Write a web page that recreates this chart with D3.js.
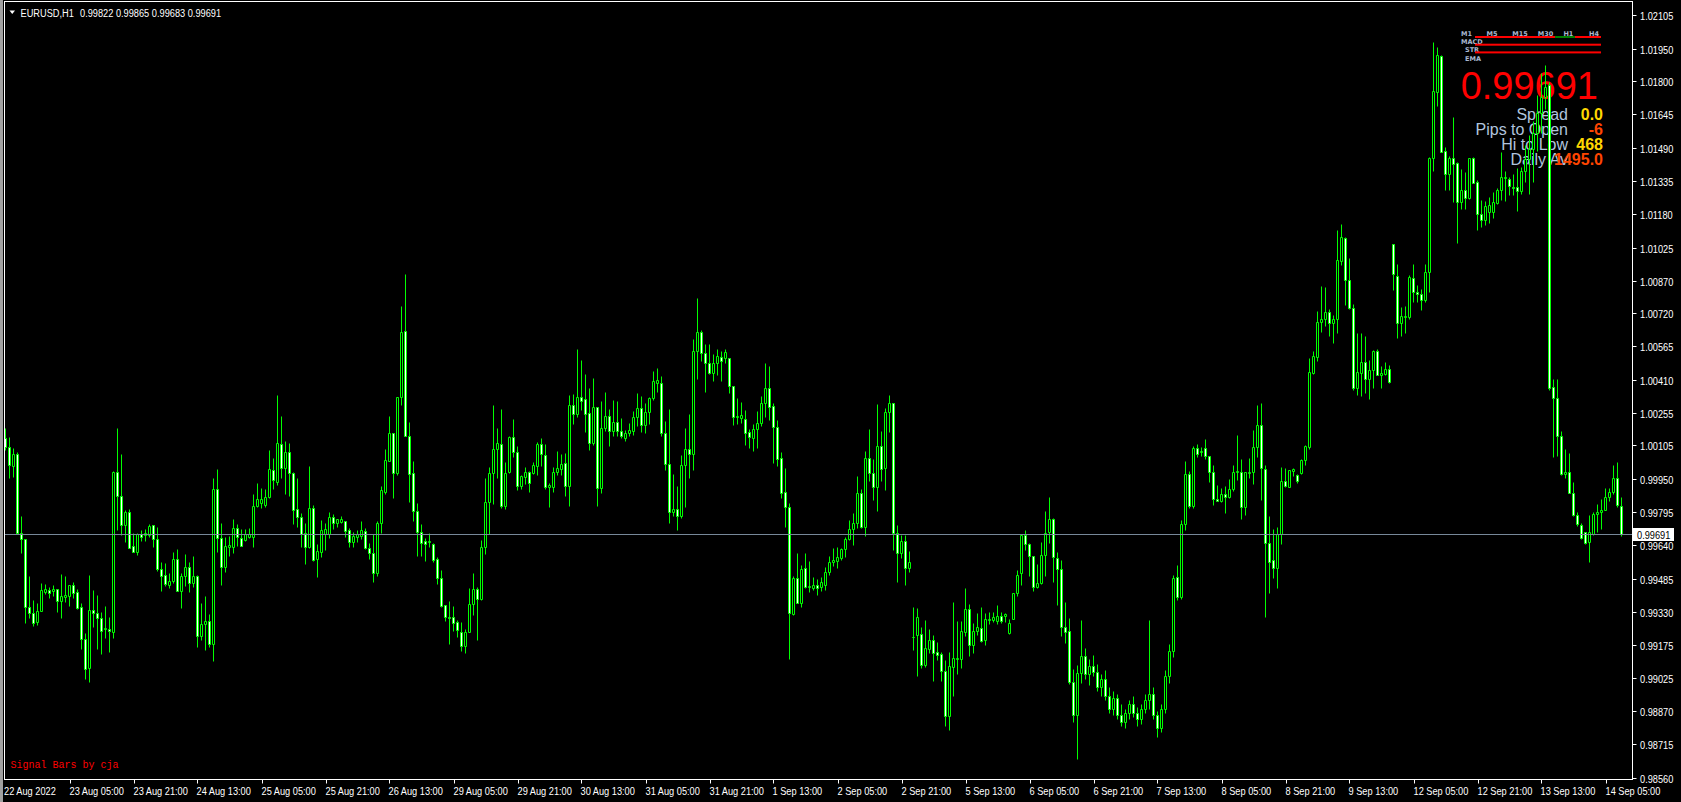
<!DOCTYPE html>
<html>
<head>
<meta charset="utf-8">
<script src="https://cdn.jsdelivr.net/npm/d3@7"></script>
<style>
html, body { margin: 0; padding: 0; background: #000; overflow: hidden; }
svg { display: block; }
</style>
</head>
<body>
<script>
// EURUSD H1 bars, 22 Aug 2022 13:00 -> 14 Sep 2022 09:00, prices in points (1e-5)
const opens = [
  100140,100098,100010,100063,99699,99671,99351,99323,99282,99336,
  99424,99432,99429,99435,99382,99401,99404,99455,99421,99351,
  99203,99068,99339,99323,99300,99249,99251,99238,99979,99871,
  99734,99793,99637,99610,99691,99686,99686,99733,99668,99528,
  99502,99457,99475,99575,99429,99497,99537,99463,99497,99220,
  99272,99288,99181,99900,99672,99537,99634,99634,99719,99675,
  99665,99680,99680,99824,99835,99827,99866,99990,99936,100110,
  99998,100076,99975,99807,99770,99696,99631,99812,99575,99607,
  99691,99691,99770,99742,99750,99751,99711,99657,99680,99683,
  99707,99626,99603,99513,99745,99890,100034,100161,99975,100328,
  100637,100147,99975,99800,99700,99660,99654,99645,99576,99487,
  99363,99307,99305,99282,99238,99172,99238,99367,99436,99389,
  99631,99843,99975,100086,100110,99824,99979,100145,100072,99917,
  99959,99983,99975,100010,100110,100060,99910,99910,99983,99995,
  100021,99918,100291,100249,100328,100319,100254,100115,100282,99905,
  100184,100242,100173,100212,100173,100138,100164,100173,100235,100277,
  100200,100259,100325,100394,100394,100161,100017,99797,99808,99778,
  100012,100087,100063,100545,100631,100533,100487,100443,100490,100518,
  100510,100510,100383,100235,100231,100226,100166,100141,100180,100207,
  100300,100370,100288,100189,100045,99887,99820,99319,99490,99371,
  99533,99445,99443,99454,99448,99453,99518,99564,99567,99583,
  99622,99668,99715,99743,99885,99727,100048,99978,99913,100104,
  100001,100259,100301,99696,99606,99659,99533,99212,99223,99226,
  99081,99157,99200,99146,99134,99056,98848,99076,99112,99112,
  99239,99344,99174,99242,99254,99200,99293,99293,99290,99312,
  99309,99231,99298,99417,99510,99688,99645,99591,99445,99464,
  99595,99702,99761,99580,99529,99262,99243,99006,98851,99045,
  99125,99040,99080,99050,98980,99020,98940,98880,98930,98850,
  98820,98860,98900,98860,98830,98880,98920,98950,98850,98790,
  98880,99030,99150,99491,99398,99738,99970,99825,100091,100076,
  100091,100057,99983,99854,99848,99877,99863,99901,99980,99983,
  99820,99978,99983,100099,100198,99994,99649,99572,99536,99691,
  99941,99913,99986,99967,99975,100037,100099,100443,100518,100677,
  100693,100724,100673,100691,100964,101068,100874,100742,100370,100442,
  100494,100415,100454,100542,100434,100438,100459,101043,100891,100675,
  100703,100703,100883,100816,100811,100779,100910,101439,101748,101916,
  101472,101368,101439,101416,101235,101291,101256,101440,101331,101182,
  101155,101190,101192,101230,101291,101347,101344,101307,101307,101286,
  101379,101435,101483,101556,101652,101724,101780,100378,100326,100149,
  99970,99983,99885,99781,99733,99701,99654,99693,99786,99794,
  99805,99863,99890,99954,99822
];
const highs = [
  100184,100142,100091,100075,99776,99671,99497,99386,99370,99463,
  99460,99448,99455,99435,99506,99497,99455,99468,99437,99370,
  99230,99502,99432,99409,99331,99358,99308,99985,100184,100064,
  99804,99809,99696,99696,99711,99714,99739,99733,99723,99562,
  99556,99510,99609,99623,99510,99599,99564,99590,99502,99373,
  99404,99320,99951,99995,99742,99680,99683,99761,99739,99716,
  99714,99722,99877,99928,99908,99900,100083,100044,100339,100240,
  100125,100117,99983,99952,99789,99742,100009,99828,99646,99758,
  99742,99795,99786,99761,99777,99755,99722,99704,99711,99753,
  99722,99649,99691,99753,99916,100086,100240,100161,100331,100753,
  100902,100215,100031,99835,99738,99672,99696,99649,99587,99525,
  99363,99381,99357,99293,99285,99251,99440,99510,99445,99665,
  99952,100003,100293,100186,100274,100026,100148,100227,100103,99967,
  100004,99986,100029,100119,100138,100111,99932,100006,100080,100065,
  100071,100339,100344,100552,100502,100435,100373,100417,100282,100311,
  100352,100273,100316,100311,100231,100177,100208,100265,100347,100336,
  100301,100332,100451,100463,100426,100218,100273,99972,99916,100060,
  100184,100249,100598,100789,100642,100576,100576,100530,100553,100544,
  100552,100510,100383,100324,100305,100270,100181,100204,100265,100335,
  100487,100474,100300,100223,100076,99998,99839,99495,99603,99549,
  99603,99567,99491,99482,99491,99538,99588,99626,99631,99628,
  99677,99758,99789,99960,99901,100079,100180,100040,100297,100172,
  100277,100339,100301,99735,99688,99688,99614,99352,99347,99262,
  99293,99251,99223,99189,99146,99107,99146,99378,99288,99288,
  99440,99367,99278,99327,99352,99327,99330,99330,99363,99329,
  99327,99298,99417,99525,99693,99712,99650,99591,99552,99654,
  99800,99863,99769,99608,99572,99375,99301,99065,99084,99293,
  99160,99110,99130,99090,99040,99060,98980,98960,98950,98900,
  98880,98920,98940,98890,98900,98950,99294,98980,98870,98900,
  99060,99180,99502,99549,99758,100032,99986,100102,100111,100096,
  100135,100057,100014,99921,99905,99916,99947,100014,100153,100040,
  99983,100045,100177,100293,100301,100014,99774,99715,99727,100006,
  100001,99990,100001,99972,100042,100107,100510,100545,100730,100846,
  100840,100739,100711,101107,101134,101072,100975,100762,100627,100627,
  100615,100503,100547,100555,100474,100491,100478,101043,100950,100750,
  100755,100899,100950,100851,100832,100947,101444,101980,101959,101921,
  101492,101451,101631,101423,101392,101376,101443,101447,101339,101246,
  101243,101259,101283,101303,101471,101383,101351,101367,101395,101399,
  101503,101548,101612,101732,101836,101876,101796,100414,100414,100170,
  100090,100069,99933,99797,99746,99701,99781,99794,99834,99855,
  99906,99906,100013,100026,99865
];
const lows = [
  100083,99954,99959,99696,99606,99280,99303,99266,99269,99336,
  99413,99396,99406,99331,99303,99378,99359,99396,99344,99156,
  99018,99006,99259,99156,99133,99210,99145,99210,99711,99688,
  99657,99626,99609,99596,99661,99661,99680,99634,99522,99429,
  99451,99441,99466,99426,99350,99451,99421,99448,99169,99200,
  99153,99165,99103,99610,99455,99517,99590,99606,99637,99638,
  99661,99672,99634,99820,99812,99820,99858,99900,99921,99955,
  99879,99871,99741,99727,99634,99553,99629,99567,99494,99587,
  99618,99676,99716,99727,99742,99680,99631,99631,99657,99669,
  99623,99576,99471,99499,99696,99879,100032,99862,99967,100293,
  100146,99842,99755,99592,99592,99569,99634,99561,99460,99355,
  99290,99183,99243,99215,99149,99141,99235,99316,99200,99386,
  99600,99691,99832,99955,99815,99809,99975,100052,99897,99902,
  99925,99890,99972,99967,100010,99901,99820,99888,99967,99967,
  99871,99825,100204,100238,100270,100167,100084,100107,99823,99882,
  100173,100104,100150,100149,100138,100127,100149,100153,100195,100166,
  100164,100204,100316,100355,100146,99990,99746,99777,99712,99769,
  99820,99955,99990,100414,100497,100355,100437,100406,100432,100406,
  100490,100350,100200,100204,100211,100107,100094,100080,100091,100195,
  100239,100223,100025,100011,99859,99727,99112,99316,99371,99355,
  99440,99425,99432,99409,99429,99432,99502,99544,99533,99572,
  99584,99665,99642,99719,99719,99681,99939,99851,99801,99939,
  99898,100169,99619,99467,99583,99453,99518,99154,99033,99071,
  99076,99141,99011,99107,99011,98800,98781,98941,99042,99071,
  99219,99126,99141,99223,99191,99177,99274,99285,99274,99278,
  99285,99228,99298,99402,99456,99619,99495,99429,99442,99460,
  99495,99650,99471,99363,99220,99185,98995,98820,98647,98999,
  99020,98990,99030,98960,98940,98920,98860,98850,98830,98800,
  98790,98830,98840,98800,98810,98860,98880,98830,98750,98770,
  98860,99000,99120,99386,99389,99712,99815,99815,100052,100056,
  100042,99936,99828,99846,99843,99792,99862,99893,99944,99763,
  99781,99952,99925,100052,99851,99308,99420,99490,99443,99646,
  99910,99910,99963,99932,99972,100014,100087,100437,100499,100634,
  100660,100615,100583,100626,100944,100758,100738,100362,100338,100334,
  100346,100322,100370,100430,100370,100434,100394,100827,100603,100615,
  100627,100691,100771,100771,100736,100771,100819,101379,101684,101471,
  101291,101291,101235,101048,101203,101203,101251,101323,101107,101120,
  101131,101139,101163,101227,101246,101243,101267,101270,101195,101275,
  101331,101272,101331,101475,101556,101668,100362,100050,100053,99967,
  99954,99882,99778,99730,99669,99645,99561,99686,99701,99714,
  99802,99845,99877,99818,99683
];
const closes = [
  100098,100013,100063,99699,99671,99351,99323,99277,99336,99432,
  99435,99420,99435,99382,99404,99409,99455,99420,99350,99203,
  99063,99339,99327,99300,99243,99257,99240,99982,99871,99734,
  99793,99629,99610,99691,99677,99696,99730,99668,99528,99497,
  99458,99475,99575,99429,99497,99537,99463,99497,99220,99272,
  99288,99179,99900,99672,99537,99638,99641,99719,99680,99638,
  99691,99691,99824,99855,99854,99866,99995,99944,100114,99998,
  100072,99975,99804,99770,99693,99634,99812,99572,99614,99711,
  99714,99770,99742,99761,99761,99708,99657,99683,99691,99711,
  99629,99603,99510,99742,99897,100037,100161,99975,100328,100630,
  100150,99970,99801,99700,99649,99645,99660,99570,99487,99359,
  99305,99304,99280,99246,99172,99238,99366,99436,99389,99631,
  99843,99975,100086,100114,99824,99975,100145,100072,99916,99962,
  99979,99931,100014,100110,100063,99910,99921,99983,99998,100018,
  99918,100291,100249,100328,100313,100249,100118,100282,99905,100184,
  100242,100173,100212,100173,100150,100161,100177,100235,100277,100200,
  100259,100325,100403,100408,100161,100017,99797,99808,99778,100012,
  100087,100063,100545,100631,100533,100487,100443,100490,100522,100499,
  100538,100383,100235,100242,100246,100164,100142,100181,100207,100300,
  100370,100285,100192,100040,99885,99820,99324,99490,99371,99530,
  99445,99451,99453,99440,99468,99518,99564,99570,99586,99622,
  99668,99715,99743,99885,99727,100045,99975,99913,100104,99994,
  100259,100304,99696,99606,99659,99533,99564,99212,99305,99081,
  99161,99200,99141,99130,99057,98848,99079,99115,99118,99242,
  99344,99174,99242,99260,99195,99298,99298,99307,99312,99290,
  99321,99278,99417,99502,99688,99645,99588,99445,99464,99595,
  99699,99761,99584,99529,99262,99239,99006,98851,99045,99125,
  99040,99080,99050,98980,99020,98940,98880,98930,98850,98820,
  98860,98900,98860,98830,98880,98920,98950,98850,98790,98880,
  99030,99150,99487,99398,99738,99970,99825,100091,100063,100079,
  100057,99980,99854,99848,99877,99863,99901,99980,99986,99820,
  99980,99983,100099,100198,100001,99649,99564,99536,99691,99941,
  99916,99990,99994,99939,100037,100102,100445,100521,100677,100691,
  100724,100673,100691,100967,101072,100874,100742,100373,100446,100494,
  100415,100454,100542,100430,100442,100459,100399,100902,100675,100707,
  100707,100888,100816,100811,100779,100910,101439,101751,101919,101471,
  101368,101439,101415,101235,101291,101256,101440,101327,101182,101155,
  101216,101222,101235,101291,101352,101355,101312,101303,101286,101383,
  101435,101483,101556,101652,101724,101772,100370,100326,100149,99970,
  99983,99885,99781,99738,99674,99650,99701,99786,99794,99805,
  99863,99890,99954,99826,99691
];

const priceTicks = [1.02105, 1.01950, 1.01800, 1.01645, 1.01490, 1.01335, 1.01180, 1.01025,
  1.00870, 1.00720, 1.00565, 1.00410, 1.00255, 1.00105, 0.99950, 0.99795, 0.99640, 0.99485,
  0.99330, 0.99175, 0.99025, 0.98870, 0.98715, 0.98560];

const timeLabels = ['22 Aug 2022', '23 Aug 05:00', '23 Aug 21:00', '24 Aug 13:00', '25 Aug 05:00',
  '25 Aug 21:00', '26 Aug 13:00', '29 Aug 05:00', '29 Aug 21:00', '30 Aug 13:00', '31 Aug 05:00',
  '31 Aug 21:00', '1 Sep 13:00', '2 Sep 05:00', '2 Sep 21:00', '5 Sep 13:00', '6 Sep 05:00',
  '6 Sep 21:00', '7 Sep 13:00', '8 Sep 05:00', '8 Sep 21:00', '9 Sep 13:00', '12 Sep 05:00',
  '12 Sep 21:00', '13 Sep 13:00', '14 Sep 05:00'];
const labelEvery = 16;

// signal bars panel: timeframe columns and row states (1 = up/green, 0 = down/red)
const timeframes = ['M1', 'M5', 'M15', 'M30', 'H1', 'H4'];
const rowNames = ['', 'MACD', 'STR', 'EMA'];
const rowSignals = [
  [0, 0, 0, 0, 1, 0],
  [0, 0, 0, 0, 0, 0],
  [0, 0, 0, 0, 0, 0]
];

const infoLabels = ['Spread', 'Pips to Open', 'Hi to Low', 'Daily Av'];
const infoValues = ['0.0', '-6', '468', '1495.0'];
const infoColors = ['#ffd700', '#ff4500', '#ffd700', '#ff4500'];

const symbol = 'EURUSD,H1';

const width = 1681, height = 802;
const plot = { left: 4.5, top: 1.5, right: 1632.5, bottom: 779.5 };
const axisFont = "'Liberation Sans', Arial, sans-serif";
const squeeze = 0.84;   // terminal font is narrow, squeeze Liberation Sans to fit

const bars = opens.map((o, i) => ({
    i: i,
    o: o / 1e5,
    h: highs[i] / 1e5,
    l: lows[i] / 1e5,
    c: closes[i] / 1e5
}));
const last = bars[bars.length - 1];

const x = d3.scaleLinear().domain([0, bars.length - 1]).range([5.5, 1621.5]);
const y = d3.scaleLinear().domain([0.98560, 1.02105]).range([777.5, 15.3]);
const py = v => Math.round(y(v)) + 0.5;

const svg = d3.select('body').append('svg')
    .attr('width', width)
    .attr('height', height);

function narrowText(parent, tx, ty, str, fill) {
    return parent.append('text')
        .attr('transform', 'translate(' + tx + ',' + ty + ') scale(' + squeeze + ',1)')
        .attr('font-family', axisFont)
        .attr('font-size', 11)
        .attr('fill', fill)
        .text(str);
}

svg.append('rect').attr('width', width).attr('height', height).attr('fill', '#000');
svg.append('rect').attr('x', 0).attr('y', 0).attr('width', 3).attr('height', height).attr('fill', '#a0a0a0');

// info panel (drawn under the bars)
const panel = svg.append('g');

panel.append('text')
    .attr('x', 1598).attr('y', 99)
    .attr('text-anchor', 'end')
    .attr('font-family', "'Liberation Sans', Arial, sans-serif")
    .attr('font-size', 38)
    .attr('fill', '#ff0000')
    .text(d3.format('.5f')(last.c));

infoLabels.forEach((t, k) => {
    const by = 119.5 + k * 15;
    panel.append('text')
        .attr('x', 1568).attr('y', by)
        .attr('text-anchor', 'end')
        .attr('font-family', "'Liberation Sans', Arial, sans-serif")
        .attr('font-size', 16)
        .attr('fill', '#b0c4de')
        .text(t);
    panel.append('text')
        .attr('x', 1603).attr('y', by)
        .attr('text-anchor', 'end')
        .attr('font-family', "'Liberation Sans', Arial, sans-serif")
        .attr('font-size', 16)
        .attr('font-weight', 'bold')
        .attr('fill', infoColors[k])
        .text(infoValues[k]);
});

const segEdges = [1475, 1497, 1518, 1538, 1555, 1575, 1601];
timeframes.forEach((t, k) => {
    panel.append('text')
        .attr('x', 1461 + k * 25.6).attr('y', 36)
        .attr('font-family', "'DejaVu Sans', sans-serif")
        .attr('font-size', 6.5)
        .attr('font-weight', 'bold')
        .attr('fill', '#aab8d0')
        .text(t);
});
rowNames.forEach((t, r) => {
    if (!t) return;
    panel.append('text')
        .attr('x', r === 1 ? 1461 : 1465).attr('y', 36 + r * 8.2)
        .attr('font-family', "'DejaVu Sans', sans-serif")
        .attr('font-size', 6.5)
        .attr('font-weight', 'bold')
        .attr('fill', '#aab8d0')
        .text(t);
});
rowSignals.forEach((row, r) => {
    row.forEach((s, k) => {
        panel.append('rect')
            .attr('x', segEdges[k]).attr('y', 36 + r * 7.7)
            .attr('width', segEdges[k + 1] - segEdges[k]).attr('height', 2)
            .attr('fill', s ? '#008000' : '#ff0000');
    });
});

svg.append('text')
    .attr('x', 10.5).attr('y', 768)
    .attr('font-family', "'Liberation Mono', 'DejaVu Sans Mono', monospace")
    .attr('font-size', 10)
    .attr('fill', '#ff0000')
    .text('Signal Bars by cja');

// candles
const candles = svg.append('g');

candles.selectAll('line.wick')
    .data(bars)
    .enter()
    .append('line')
        .attr('class', 'wick')
        .attr('x1', d => x(d.i)).attr('x2', d => x(d.i))
        .attr('y1', d => py(Math.max(d.h, d.o, d.c)))
        .attr('y2', d => py(Math.min(d.l, d.o, d.c)))
        .attr('stroke', '#00ff00')
        .attr('stroke-width', 1);

candles.selectAll('path.body')
    .data(bars)
    .enter()
    .append('path')
        .attr('class', 'body')
        .attr('d', d => {
            const top = py(Math.max(d.o, d.c));
            const bot = py(Math.min(d.o, d.c));
            const bx = x(d.i) - 1;
            return 'M' + bx + ',' + top + 'h2V' + bot + 'h-2Z';
        })
        .attr('fill', d => d.c < d.o ? '#ffffff' : '#000000')
        .attr('stroke', '#00ff00')
        .attr('stroke-width', 1);

// bid line
const bidY = py(last.c);
svg.append('line')
    .attr('x1', plot.left).attr('x2', plot.right)
    .attr('y1', bidY).attr('y2', bidY)
    .attr('stroke', '#778899');

// frame
svg.append('rect')
    .attr('x', plot.left).attr('y', plot.top)
    .attr('width', plot.right - plot.left)
    .attr('height', plot.bottom - plot.top)
    .attr('fill', 'none')
    .attr('stroke', '#ffffff');

// price axis
const yAxis = svg.append('g');
priceTicks.forEach(v => {
    const ty = py(v);
    yAxis.append('line')
        .attr('x1', plot.right).attr('x2', plot.right + 4)
        .attr('y1', ty).attr('y2', ty)
        .attr('stroke', '#ffffff');
    narrowText(yAxis, 1640, ty + 4, d3.format('.5f')(v), '#ffffff');
});

yAxis.append('rect')
    .attr('x', 1633).attr('y', bidY - 6.5)
    .attr('width', 41).attr('height', 13)
    .attr('fill', '#ffffff');
narrowText(yAxis, 1637, bidY + 4, d3.format('.5f')(last.c), '#000000');

// time axis
const xAxis = svg.append('g');
timeLabels.forEach((t, k) => {
    const tx = Math.round(x(k * labelEvery)) + 0.5;
    if (k > 0) {
        xAxis.append('line')
            .attr('x1', tx).attr('x2', tx)
            .attr('y1', plot.bottom).attr('y2', plot.bottom + 4)
            .attr('stroke', '#ffffff');
    }
    narrowText(xAxis, k === 0 ? 4 : tx - 1, 795, t, '#ffffff');
});

// header
svg.append('path')
    .attr('d', 'M9.5,10.5h5.5l-2.75,3.5Z')
    .attr('fill', '#ffffff');
narrowText(svg, 20.5, 16.5, symbol, '#ffffff');
narrowText(svg, 80, 16.5, [last.o, last.h, last.l, last.c].map(d3.format('.5f')).join(' '), '#ffffff');
</script>
</body>
</html>
